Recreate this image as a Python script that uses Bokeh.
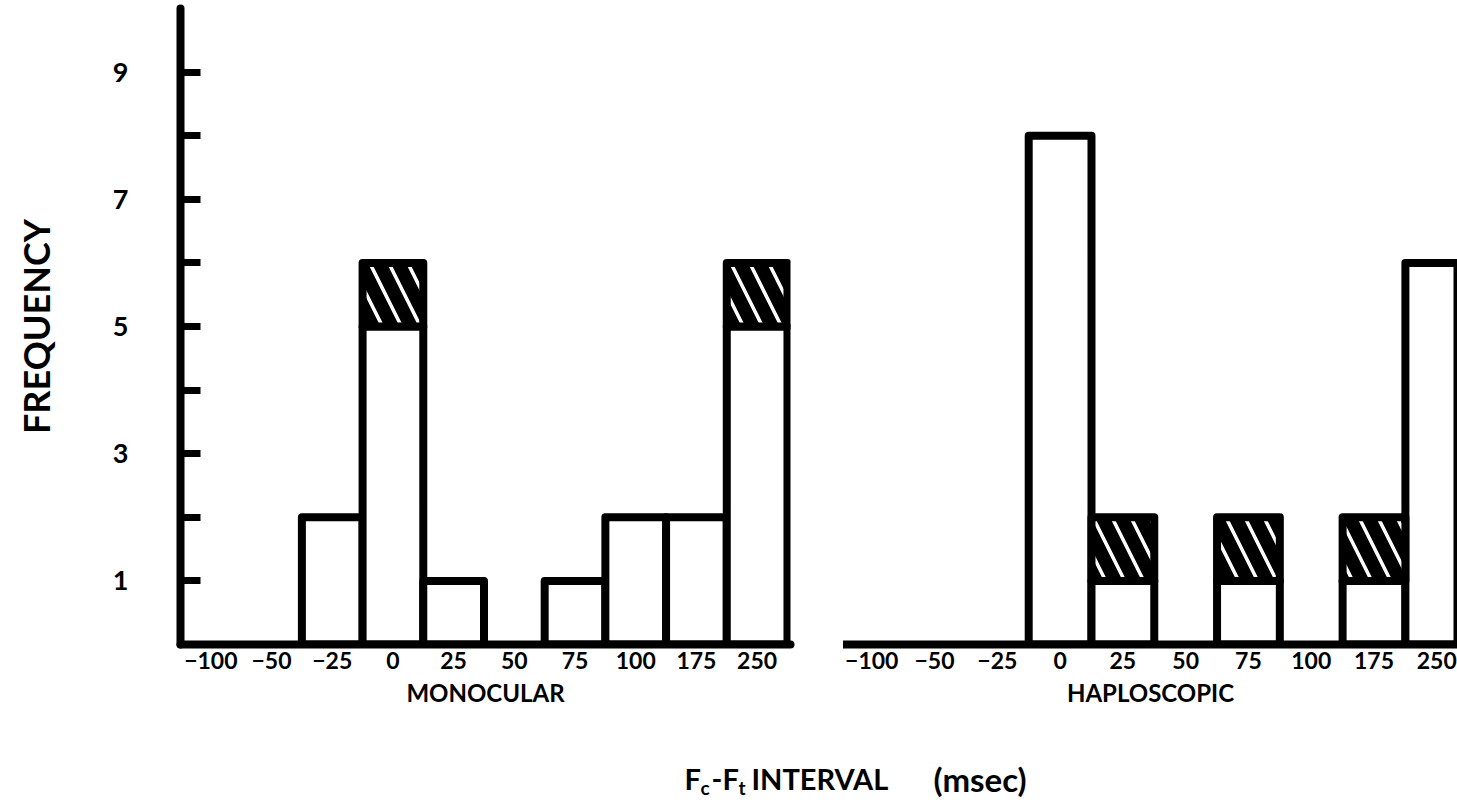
from bokeh.plotting import figure
from bokeh.layouts import row, column
from bokeh.models import Range1d, FixedTicker, Label, ColumnDataSource
from bokeh.embed import file_html
from bokeh.resources import INLINE

# ---- data ----
bins = ["\u2212100", "\u221250", "\u221225", "0", "25", "50", "75", "100", "175", "250"]
mono_open = [0, 0, 2, 5, 1, 0, 1, 2, 2, 5]
mono_hatched = [0, 0, 0, 1, 0, 0, 0, 0, 0, 1]
haplo_open = [0, 0, 0, 8, 1, 0, 1, 0, 1, 6]
haplo_hatched = [0, 0, 0, 0, 1, 0, 1, 0, 1, 0]
y_ticks = [1, 2, 3, 4, 5, 6, 7, 8, 9]
y_labels = ["1", "", "3", "", "5", "", "7", "", "9"]

FONT = "Lato"
LW = 8


def panel(open_counts, hatched_counts, x_start, x_end, title, frame_w,
          border_left, border_right, border_top, border_bottom, with_y):
    p = figure(
        output_backend="svg", toolbar_location=None, tools="",
        frame_width=frame_w, frame_height=636,
        min_border_left=border_left, min_border_right=border_right,
        min_border_top=border_top, min_border_bottom=border_bottom,
        x_range=Range1d(x_start, x_end), y_range=Range1d(0, 10),
        y_axis_location="left" if with_y else None,
        background_fill_color="white", border_fill_color="white",
    )
    p.outline_line_color = None
    p.xgrid.visible = False
    p.ygrid.visible = False

    idx = list(range(len(bins)))
    osrc = ColumnDataSource(dict(
        x=[i for i in idx if open_counts[i] > 0],
        top=[open_counts[i] for i in idx if open_counts[i] > 0],
    ))
    p.vbar(x="x", top="top", bottom=0, width=1, source=osrc,
           fill_color="white", line_color="black", line_width=LW,
           line_join="round")
    hsrc = ColumnDataSource(dict(
        x=[i for i in idx if hatched_counts[i] > 0],
        bottom=[open_counts[i] for i in idx if hatched_counts[i] > 0],
        top=[open_counts[i] + hatched_counts[i] for i in idx if hatched_counts[i] > 0],
    ))
    p.vbar(x="x", top="top", bottom="bottom", width=1, source=hsrc,
           fill_color="black", line_color="black", line_width=LW,
           line_join="round",
           hatch_pattern="left_diagonal_line", hatch_color="white",
           hatch_weight=3.5, hatch_scale=38)

    xa = p.xaxis[0]
    xa.ticker = FixedTicker(ticks=idx)
    xa.major_label_overrides = {i: bins[i] for i in idx}
    xa.major_tick_in = 0
    xa.major_tick_out = 0
    xa.minor_tick_in = 0
    xa.minor_tick_out = 0
    xa.axis_line_width = LW
    xa.axis_line_color = "black"
    xa.axis_line_cap = "round"
    xa.major_label_text_font = FONT
    xa.major_label_text_font_style = "bold"
    xa.major_label_text_font_size = "23px"
    xa.major_label_text_color = "black"
    xa.major_label_standoff = 7
    xa.axis_label = title
    xa.axis_label_text_font = FONT
    xa.axis_label_text_font_style = "bold"
    xa.axis_label_text_font_size = "24px"
    xa.axis_label_text_color = "black"
    xa.axis_label_standoff = 6

    if with_y:
        ya = p.yaxis[0]
        ya.ticker = FixedTicker(ticks=y_ticks)
        ya.major_label_overrides = {t: l for t, l in zip(y_ticks, y_labels)}
        ya.major_tick_in = 20
        ya.major_tick_out = 0
        ya.major_tick_line_width = 7
        ya.major_tick_line_color = "black"
        ya.minor_tick_in = 0
        ya.minor_tick_out = 0
        ya.axis_line_width = LW
        ya.axis_line_color = "black"
        ya.axis_line_cap = "round"
        ya.major_label_text_font = FONT
        ya.major_label_text_font_style = "bold"
        ya.major_label_text_font_size = "27px"
        ya.major_label_text_color = "black"
        ya.major_label_standoff = 52
        ya.axis_label = "FREQUENCY"
        ya.axis_label_text_font = FONT
        ya.axis_label_text_font_style = "bold"
        ya.axis_label_text_font_size = "36px"
        ya.axis_label_text_color = "black"
        ya.axis_label_standoff = 52
    return p


left = panel(mono_open, mono_hatched, -0.5, 9.55, "MONOCULAR", 610,
             180, 53, 8, 76, True)
right = panel(haplo_open, haplo_hatched, -0.45, 9.33, "HAPLOSCOPIC", 614,
              0, 0, 4, 80, False)

bottom = figure(
    output_backend="svg", toolbar_location=None, tools="",
    width=1457, height=88, min_border=0,
    x_range=Range1d(0, 1457), y_range=Range1d(0, 88),
    x_axis_location=None, y_axis_location=None,
    background_fill_color="white", border_fill_color="white",
)
bottom.outline_line_color = None
bottom.xgrid.visible = False
bottom.ygrid.visible = False

pieces = [
    ("F", 684, 30, "29px"),
    ("c", 700, 21, "19px"),
    ("-", 711, 30, "29px"),
    ("F", 722, 30, "29px"),
    ("t", 738, 21, "19px"),
    ("INTERVAL", 751, 30, "29px"),
    ("(msec)", 933, 30, "33px"),
]
for txt, x, y, size in pieces:
    bottom.add_layout(Label(x=x, y=y, text=txt, text_font=FONT,
                            text_font_style="bold", text_font_size=size,
                            text_color="black", text_baseline="alphabetic",
                            text_align="left"))

layout = column(row(left, right, spacing=0), bottom, spacing=0)

with open("out.html", "w") as f:
    f.write(file_html(layout, INLINE))
